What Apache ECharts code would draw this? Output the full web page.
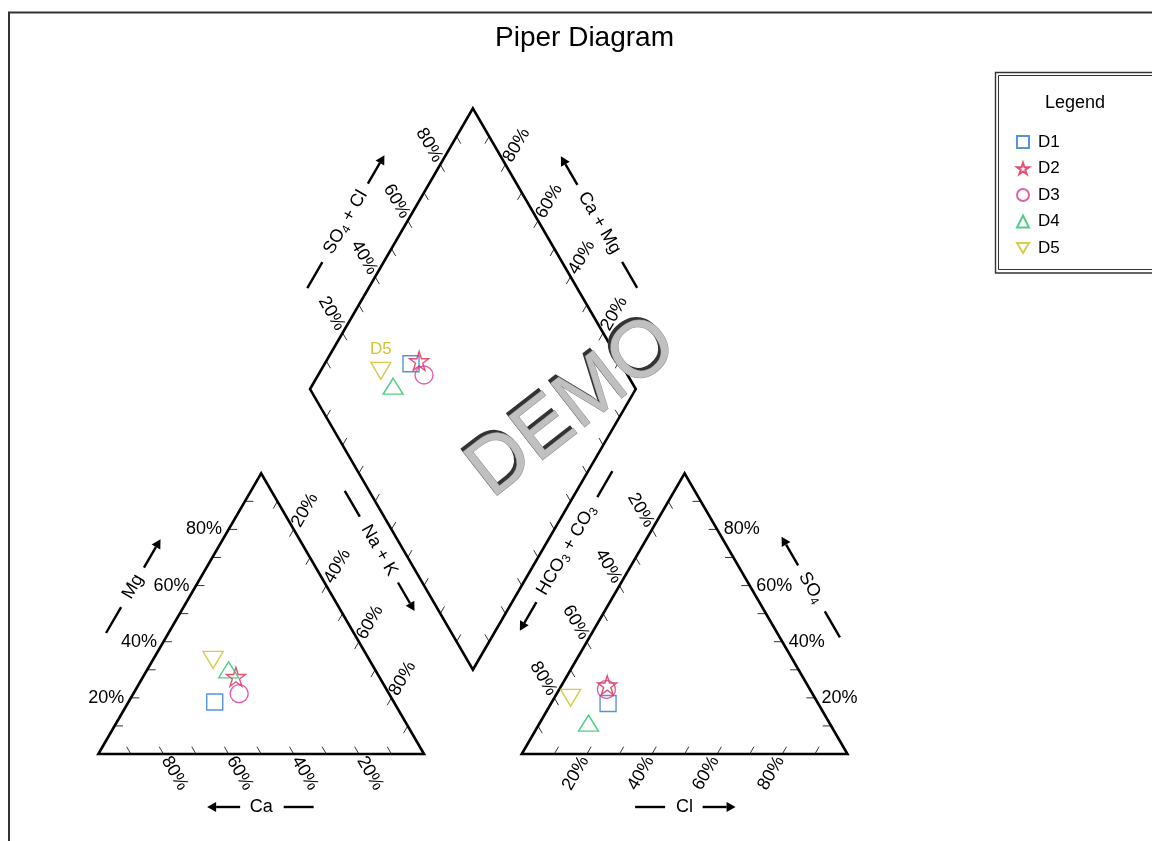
<!DOCTYPE html>
<html>
<head>
<meta charset="utf-8">
<title>Piper Diagram</title>
<script src="https://cdn.jsdelivr.net/npm/echarts@6/dist/echarts.min.js"></script>
<style>
  html, body { margin: 0; padding: 0; background: #fff; }
  #chart { width: 1152px; height: 841px; }
</style>
</head>
<body>
<div id="chart"></div>
<script>
// samples and ion percentages (meq %)
const samples = ['D1', 'D2', 'D3', 'D4', 'D5'];
const ca   = [55, 44, 46, 45, 48];
const mg   = [18.5, 27.5, 21.5, 30, 33.5];
const naK  = [26.5, 28.5, 32.5, 25, 18.5];
const hco3 = [64.5, 61.5, 62.5, 74, 75];
const so4  = [18, 24.5, 23, 11, 20];
const cl   = [17.5, 14, 14.5, 15, 5];
const tickValues = [20, 40, 60, 80];
const tickLabels = ['20%', '40%', '60%', '80%'];
const labelledSamples = ['D5'];

const FONT = '"Liberation Sans", Arial, sans-serif';
const FS = 18;
const colors = ['#2b7bd6', '#e0244f', '#d93a8e', '#25c267', '#cdbf22'];
const STAR = 'path://M0,-1L0.2245,-0.309L0.951,-0.309L0.363,0.118L0.588,0.809L0,0.382L-0.588,0.809L-0.363,0.118L-0.951,-0.309L-0.2245,-0.309Z';
const DOWN = 'path://M0,0L20,0L10,17Z';
const symbols = ['rect', STAR, 'circle', 'triangle', DOWN];
const sizes = [16, 19, 18, [20, 16], [20, 17]];

// geometry in "side = 100" units
const S3 = Math.sqrt(3) / 2;
const GAP = 30;
const OX = 100 + GAP;
const H = 100 * S3;
const tri1 = {a: [0, 0], b: [100, 0], c: [50, H]};
const tri2 = {a: [OX, 0], b: [OX + 100, 0], c: [OX + 50, H]};
const dB = [100 + GAP / 2, GAP * S3];
const dL = [dB[0] - 50, dB[1] + H];
const dR = [dB[0] + 50, dB[1] + H];
const dT = [dB[0], dB[1] + 2 * H];

function lerp(p, q, t) { return [p[0] + (q[0] - p[0]) * t, p[1] + (q[1] - p[1]) * t]; }
function add(p, d, k) { return [p[0] + d[0] * k, p[1] + d[1] * k]; }

const UP_R = [0.5, S3], UP_L = [-0.5, S3], DN_R = [0.5, -S3], DN_L = [-0.5, -S3];
const RIGHT = [1, 0], LEFT = [-1, 0];

// [from, to, inward tick direction]
const sides = [
  [tri1.a, tri1.b, UP_L], [tri1.a, tri1.c, RIGHT], [tri1.c, tri1.b, DN_L],
  [tri2.a, tri2.b, UP_R], [tri2.b, tri2.c, LEFT], [tri2.c, tri2.a, DN_R],
  [dL, dT, DN_R], [dR, dT, DN_L], [dB, dL, UP_R], [dB, dR, UP_L]
];

const labelSets = [
  {from: tri1.a, to: tri1.c, out: LEFT, gap: 2, rot: 0, align: 'right'},     // Mg
  {from: tri1.b, to: tri1.a, out: DN_R, gap: 1.3, rot: -60, align: 'left'},  // Ca
  {from: tri1.c, to: tri1.b, out: UP_R, gap: 1.3, rot: 60, align: 'left'},   // Na+K
  {from: tri2.a, to: tri2.b, out: DN_L, gap: 1.3, rot: 60, align: 'right'},  // Cl
  {from: tri2.b, to: tri2.c, out: RIGHT, gap: 2, rot: 0, align: 'left'},     // SO4
  {from: tri2.c, to: tri2.a, out: UP_L, gap: 1.3, rot: -60, align: 'right'}, // HCO3
  {from: dL, to: dT, out: UP_L, gap: 1.3, rot: -60, align: 'right'},         // SO4+Cl
  {from: dR, to: dT, out: UP_R, gap: 1.3, rot: 60, align: 'left'}            // Ca+Mg
];

const titles = [
  {from: tri1.a, to: tri1.c, out: [-S3, 0.5], off: 54, shift: 0, arrow: 1, text: [['Mg', 0]]},
  {from: tri1.a, to: tri1.b, out: [0, -1], off: 53, shift: 0, arrow: -1, text: [['Ca', 0]]},
  {from: dL, to: dB, out: [-S3, -0.5], off: 21, shift: 12, arrow: 1, text: [['Na + K', 0]]},
  {from: tri2.a, to: tri2.b, out: [0, -1], off: 53, shift: 0, arrow: 1, text: [['Cl', 0]]},
  {from: tri2.c, to: tri2.b, out: [S3, 0.5], off: 52, shift: 0, arrow: -1, text: [['SO', 0], ['4', 1]]},
  {from: dB, to: dR, out: [S3, -0.5], off: 21, shift: -12, arrow: -1, text: [['HCO', 0], ['3', 1], [' + CO', 0], ['3', 1]]},
  {from: dL, to: dT, out: [-S3, 0.5], off: 53, shift: 0, arrow: 1, text: [['SO', 0], ['4', 1], [' + Cl', 0]]},
  {from: dT, to: dR, out: [S3, 0.5], off: 52, shift: 0, arrow: -1, text: [['Ca + Mg', 0]]}
];

const measureCtx = document.createElement('canvas').getContext('2d');
function textWidth(str, size) {
  measureCtx.font = size + 'px ' + FONT;
  return measureCtx.measureText(str).width;
}

const richStyle = {
  n: {fontSize: FS, fontFamily: FONT, lineHeight: 21, fill: '#000'},
  s: {fontSize: 12, fontFamily: FONT, lineHeight: 13, verticalAlign: 'bottom', fill: '#000'}
};

function drawTitle(t, P, kids, seg) {
  const a = P(t.from), b = P(t.to);
  let ux = b[0] - a[0], uy = b[1] - a[1];
  const len = Math.hypot(ux, uy); ux /= len; uy /= len;
  const midD = lerp(t.from, t.to, 0.5);
  const m = P(midD), o = P(add(midD, t.out, 1));
  let nx = o[0] - m[0], ny = o[1] - m[1];
  const nl = Math.hypot(nx, ny); nx /= nl; ny /= nl;
  const cx = m[0] + nx * t.off + ux * t.shift;
  const cy = m[1] + ny * t.off + uy * t.shift;
  const rich = t.text.map(([s, sub]) => '{' + (sub ? 's' : 'n') + '|' + s + '}').join('');
  const w = t.text.reduce((acc, [s, sub]) => acc + textWidth(s, sub ? 12 : FS), 0);
  kids.push({
    type: 'text', x: cx, y: cy, rotation: -Math.atan2(uy, ux),
    style: {text: rich, rich: richStyle, align: 'center', verticalAlign: 'middle', fill: '#000'}
  });
  const half = w / 2 + 10 + 16;
  const as = t.arrow;
  const ac = [cx + ux * half * as, cy + uy * half * as];
  const dc = [cx - ux * half * as, cy - uy * half * as];
  seg([dc[0] - ux * 15, dc[1] - uy * 15], [dc[0] + ux * 15, dc[1] + uy * 15], 2.4, '#000');
  const dx = ux * as, dy = uy * as;
  const tip = [ac[0] + dx * 16.5, ac[1] + dy * 16.5];
  const base = [tip[0] - dx * 9, tip[1] - dy * 9];
  seg([ac[0] - dx * 16.5, ac[1] - dy * 16.5], base, 2.4, '#000');
  kids.push({
    type: 'polygon',
    shape: {points: [tip, [base[0] - dy * 5, base[1] + dx * 5], [base[0] + dy * 5, base[1] - dx * 5]]},
    style: {fill: '#000'}
  });
}

function renderFrame(params, api) {
  const P = p => api.coord(p);
  const kids = [];
  const seg = (a, b, w, c) => kids.push({type: 'line', shape: {x1: a[0], y1: a[1], x2: b[0], y2: b[1]}, style: {stroke: c, lineWidth: w}});
  sides.forEach(([f, t, d]) => {
    for (let v = 10; v < 100; v += 10) {
      const p = lerp(f, t, v / 100);
      seg(P(p), P(add(p, d, 2.6)), 1, '#333');
    }
  });
  [[tri1.a, tri1.b, tri1.c], [tri2.a, tri2.b, tri2.c], [dB, dR, dT, dL]].forEach(poly => {
    kids.push({type: 'polygon', shape: {points: poly.map(P)}, style: {fill: 'none', stroke: '#000', lineWidth: 2.6, lineJoin: 'miter'}});
  });
  labelSets.forEach(s => {
    tickValues.forEach((v, i) => {
      const p = lerp(s.from, s.to, v / 100);
      const q = P(add(p, s.out, s.gap));
      kids.push({
        type: 'text', x: q[0], y: q[1], rotation: s.rot * Math.PI / 180,
        style: {text: tickLabels[i], fontSize: FS, fontFamily: FONT, fill: '#000', align: s.align, verticalAlign: 'middle'}
      });
    });
  });
  titles.forEach(t => drawTitle(t, P, kids, seg));
  return {type: 'group', children: kids};
}

const sampleSeries = samples.map((name, i) => {
  const cTot = ca[i] + mg[i] + naK[i];
  const aTot = hco3[i] + so4[i] + cl[i];
  const pMg = mg[i] / cTot * 100, pNa = naK[i] / cTot * 100, pCa = ca[i] / cTot * 100;
  const pSo4 = so4[i] / aTot * 100, pCl = cl[i] / aTot * 100;
  const s = pSo4 + pCl, c = pCa + pMg;
  const diamond = [dB[0] + (s - c) / 2, dB[1] + (s + c) * S3];
  return {
    type: 'scatter',
    name: name,
    z: 3,
    symbol: symbols[i],
    symbolSize: sizes[i],
    symbolKeepAspect: false,
    itemStyle: {color: 'rgba(0,0,0,0)', borderColor: colors[i], borderWidth: 1.4},
    emphasis: {disabled: true},
    data: [
      [pNa + pMg / 2, pMg * S3],
      [OX + pCl + pSo4 / 2, pSo4 * S3],
      {
        value: diamond,
        label: {
          show: labelledSamples.includes(name), formatter: name, position: 'top', distance: 4,
          color: '#c8b400', fontSize: 17, fontFamily: FONT
        }
      }
    ]
  };
});

const chart = echarts.init(document.getElementById('chart'));
chart.setOption({
  animation: false,
  grid: {left: 0, right: 0, top: 0, bottom: 0},
  xAxis: {type: 'value', min: -30.18, max: 323.5, show: false},
  yAxis: {type: 'value', min: -26.84, max: 232.6, show: false},
  legend: {
    orient: 'vertical', left: 1016, top: 133.5, padding: 0,
    itemWidth: 12, itemHeight: 12, itemGap: 9.5,
    textStyle: {fontSize: 17, fontFamily: FONT, color: '#000', padding: [0, 0, 0, 4]},
    data: samples
  },
  graphic: [
    {type: 'rect', shape: {x: 9, y: 12.5, width: 1300, height: 1000}, style: {fill: 'none', stroke: '#333', lineWidth: 2}},
    {type: 'rect', shape: {x: 995.5, y: 72.5, width: 300, height: 200.5}, style: {fill: 'none', stroke: '#333', lineWidth: 1.4}},
    {type: 'rect', shape: {x: 998.5, y: 75.5, width: 300, height: 194}, style: {fill: 'none', stroke: '#333', lineWidth: 1}},
    {type: 'text', x: 1075, y: 103, style: {text: 'Legend', fontSize: 18, fontFamily: FONT, fill: '#000', align: 'center', verticalAlign: 'middle'}},
    {type: 'text', x: 584.5, y: 38, style: {text: 'Piper Diagram', fontSize: 28, fontFamily: FONT, fill: '#000', align: 'center', verticalAlign: 'middle'}},
    {type: 'text', x: 570, y: 405, rotation: 38 * Math.PI / 180, z: 100,
      style: {text: 'DEMO', fontSize: 80, fontFamily: FONT, fill: '#333', align: 'center', verticalAlign: 'middle'}},
    {type: 'text', x: 573, y: 408, rotation: 38 * Math.PI / 180, z: 101,
      style: {text: 'DEMO', fontSize: 80, fontFamily: FONT, fill: '#c0c0c0', stroke: '#8a8a8a', lineWidth: 1, align: 'center', verticalAlign: 'middle'}}
  ],
  series: [
    {
      type: 'custom',
      silent: true,
      z: 1,
      renderItem: renderFrame,
      encode: {x: 0, y: 1},
      data: [[0, 0]]
    }
  ].concat(sampleSeries)
});
</script>
</body>
</html>
